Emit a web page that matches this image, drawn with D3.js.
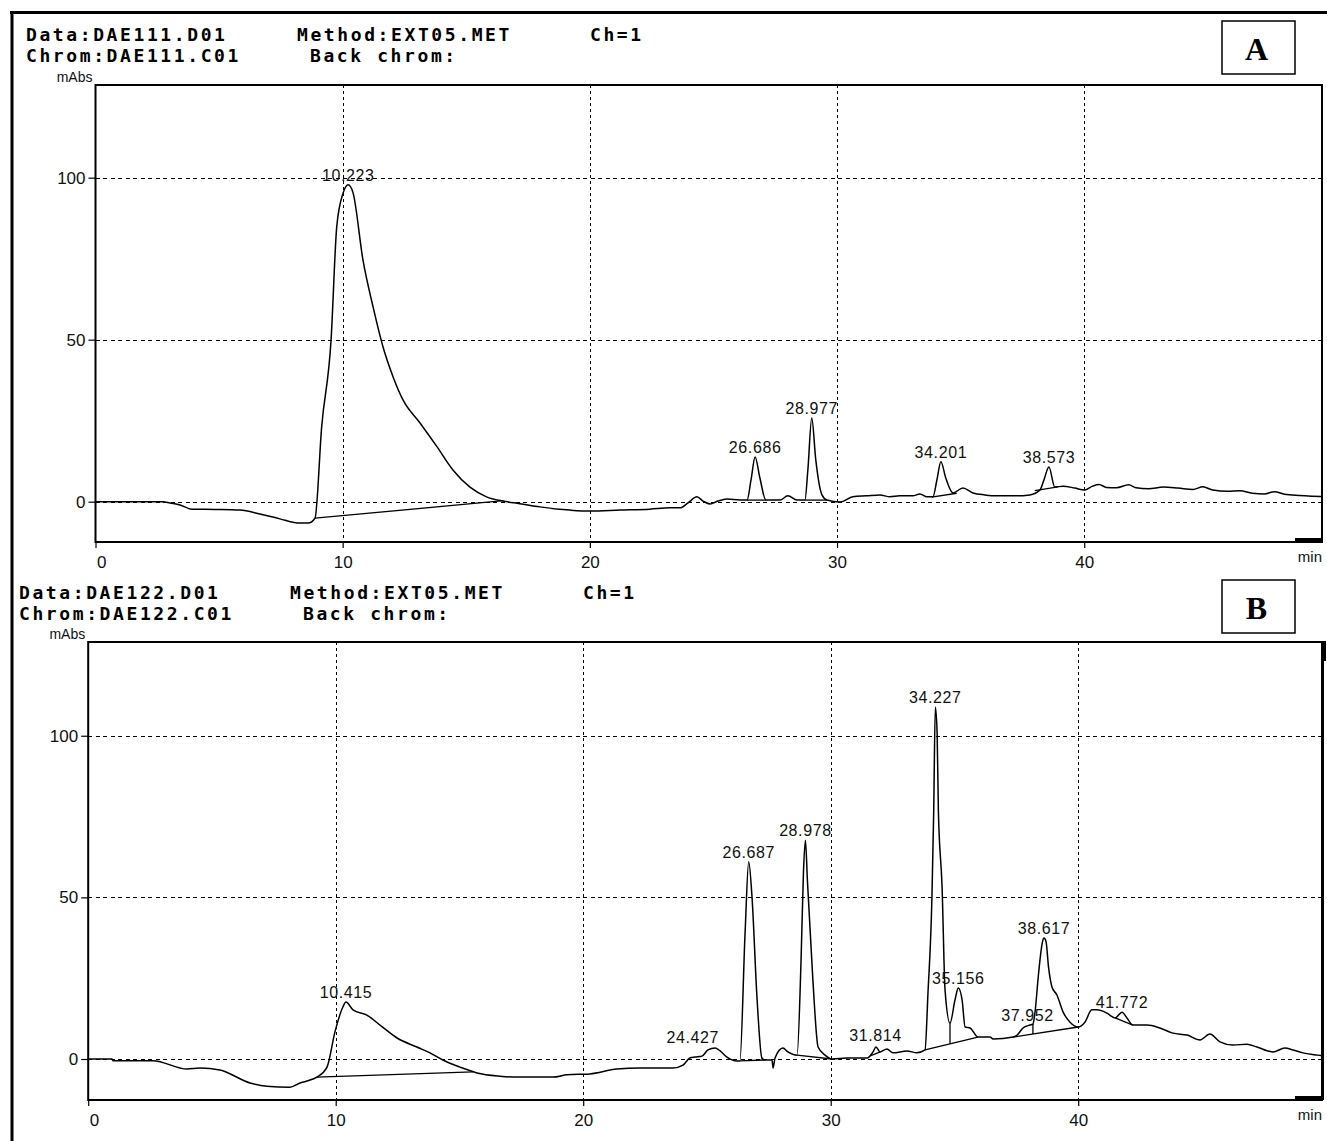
<!DOCTYPE html>
<html>
<head>
<meta charset="utf-8">
<script src="https://cdn.jsdelivr.net/npm/d3@7"></script>
<style>
  html, body { margin: 0; padding: 0; background: #fff; }
  svg { display: block; }
  .hdr { font-family: "DejaVu Sans Mono", "Liberation Mono", monospace; font-weight: bold; font-size: 18px; letter-spacing: 2.6px; fill: #000; }
  .tick { font-family: "Liberation Sans", Arial, sans-serif; font-size: 17px; fill: #111; }
  .unit { font-family: "Liberation Sans", Arial, sans-serif; font-size: 14px; fill: #111; }
  .peak { font-family: "Liberation Sans", Arial, sans-serif; font-size: 16px; letter-spacing: 0.6px; fill: #111; }
  .tag { font-family: "Liberation Serif", "Times New Roman", serif; font-weight: bold; font-size: 32px; fill: #000; }
</style>
</head>
<body>
<svg id="chart" width="1327" height="1141"></svg>
<script>
// ---- run A: DAE111 ----
const timeA = [0, 2.73, 3.01, 3.42, 3.90, 4.83, 5.84, 6.65, 7.46, 8.27, 8.60, 8.88, 9.15, 9.53, 9.76, 10.02,
  10.223, 10.42, 10.82, 11.23, 11.63, 12.04, 12.44, 13.13, 13.82, 14.46, 15.15, 15.82, 16.48, 17.17, 17.98,
  19.2, 20.0, 21.22, 22.43, 23.24, 23.64, 23.97, 24.33, 24.58, 24.86, 25.18, 25.54, 26.07, 26.36, 26.52,
  26.686, 26.88, 27.12, 27.69, 28.01, 28.38, 28.70, 28.82, 28.977, 29.14, 29.39, 29.59, 30.12, 30.64, 31.2,
  31.73, 32.14, 32.54, 33.07, 33.35, 33.64, 33.88, 34.04, 34.201, 34.40, 34.69, 35.09, 35.50, 35.98, 36.47,
  37.2, 37.8, 38.21, 38.37, 38.573, 38.81, 39.14, 39.62, 40.02, 40.34, 40.6, 40.9, 41.3, 41.8, 42.1, 42.6,
  43.2, 43.8, 44.4, 44.8, 45.2, 45.8, 46.3, 46.8, 47.3, 47.7, 48.1, 48.7, 49.2, 49.6];
const absA = [0, 0, -0.4, -1.0, -2.3, -2.4, -2.6, -3.8, -5.3, -6.6, -6.6, -5.1, 23.1, 49.9, 84.9, 95.3,
  97.8, 95.3, 74.6, 60.1, 47.8, 38.5, 31.4, 24.3, 16.9, 9.8, 4.5, 1.5, 0.2, -0.6, -1.6,
  -2.6, -2.9, -2.6, -2.3, -1.9, -1.9, -0.4, 1.5, 0.2, -0.7, 0.2, 0.8, 0.5, 0.5, 6.7,
  13.8, 7.3, 0.5, 0.5, 1.8, 0.5, 0.5, 9.8, 25.8, 12.9, 2.1, 0.5, -0.1, 1.5, 1.8,
  2.1, 1.5, 1.8, 1.8, 2.4, 1.5, 1.5, 6.7, 12.3, 7.3, 2.7, 4.2, 2.7, 2.1, 1.8,
  1.8, 2.1, 3.6, 6.7, 10.7, 4.5, 4.8, 4.2, 3.6, 4.8, 5.3, 4.4, 4.3, 5.2, 4.3, 4.0,
  4.5, 4.2, 3.8, 4.6, 3.6, 3.2, 3.4, 2.6, 2.4, 3.1, 2.3, 1.9, 1.7, 1.6];
const peakTimeA = [10.223, 26.686, 28.977, 34.201, 38.573];
const peakLevelA = [97.8, 13.8, 25.8, 12.3, 10.7];
// integration baselines: [t1, v1, t2, v2]
const baseA = [[8.88, -5.1, 16.50, 0.3], [26.36, 0.5, 27.12, 0.5], [28.70, 0.5, 29.59, 0.5],
  [33.83, 1.4, 34.84, 2.6], [38.0, 3.4, 38.94, 4.6]];

// ---- run B: DAE122 ----
const timeB = [0, 0.96, 1.0, 2.62, 3.99, 4.52, 5.32, 6.54, 7.22, 8.15, 8.56, 8.84, 9.24, 9.65, 9.97, 10.29,
  10.415, 10.70, 11.26, 11.79, 12.48, 13.28, 13.81, 14.33, 15.02, 15.71, 16.64, 17.32, 18.78, 19.35, 20.27,
  21.36, 22.30, 23.63, 24.03, 24.31, 24.52, 24.8, 25.04, 25.33, 25.53, 25.81, 26.21, 26.33, 26.54, 26.687,
  26.82, 27.02, 27.22, 27.34, 27.63, 27.67, 27.75, 28.07, 28.27, 28.64, 28.80, 28.90, 28.978, 29.06, 29.28,
  29.49, 29.77, 30.05, 30.66, 31.47, 31.71, 31.83, 31.99, 32.27, 32.52, 33.08, 33.48, 33.81, 33.93, 34.09,
  34.16, 34.227, 34.30, 34.35, 34.5, 34.62, 34.82, 35.02, 35.156, 35.31, 35.43, 35.63, 35.95, 36.44, 36.56,
  37.37, 37.53, 37.77, 38.05, 38.17, 38.25, 38.40, 38.55, 38.617, 38.70, 38.80, 38.94, 39.14, 39.39, 39.67,
  40.0, 40.27, 40.55, 40.76, 41.16, 41.49, 41.772, 41.97, 42.21, 42.78, 43.3, 43.83, 44.4, 44.92, 45.32,
  45.73, 46.25, 46.82, 47.22, 47.87, 48.35, 48.68, 49.08, 49.69, 49.85];
const absB = [0, 0, -0.5, -0.5, -3.1, -2.8, -3.4, -7.4, -8.4, -8.7, -7.4, -6.8, -5.6, -2.5, 8.4, 16.1,
  17.6, 15.2, 13.6, 10.5, 6.5, 3.7, 1.9, -0.3, -2.5, -4.3, -5.3, -5.6, -5.6, -4.9, -4.6,
  -3.1, -2.8, -2.8, -1.9, 0.3, 0.6, 0.9, 2.8, 3.4, 2.5, 0.6, -0.6, -0.6, 39, 61.0,
  50.1, 19.2, 0.3, -0.3, -0.3, -2.8, 0.3, 3.4, 2.2, 1.2, 30, 58, 67.7, 55, 24.4,
  3.7, 1.2, 0, 0.3, 0.3, 2.2, 3.7, 2.2, 3.1, 1.9, 2.5, 1.9, 2.8, 20.4, 50.1,
  76, 108.9, 100.8, 77, 53.2, 21.3, 11.1, 18.2, 22.0, 18.2, 9.9, 9.6, 6.8, 6.8, 6.2,
  6.8, 7.4, 9.6, 10.5, 10.8, 14.2, 26.6, 36.0, 37.4, 36.3, 28.5, 22.3, 19.8, 14.5, 11.4,
  9.9, 11.4, 15.2, 15.2, 14.2, 12.7, 14.5, 12.7, 10.5, 10.5, 9.6, 8.0, 7.4, 5.9, 7.7,
  5.3, 4.3, 4.6, 3.7, 2.2, 3.4, 2.8, 1.9, 1.2, 1.0];
const peakTimeB = [10.415, 24.427, 26.687, 28.978, 31.814, 34.227, 35.156, 37.952, 38.617, 41.772];
const peakLevelB = [17.6, 3.7, 61.0, 67.7, 4.2, 108.9, 22.0, 10.5, 37.4, 14.5];
const baseB = [[9.24, -5.6, 15.55, -4.0], [26.33, -0.6, 27.34, -0.3], [28.64, 1.2, 30.05, 0],
  [31.6, 1.0, 32.0, 2.2], [33.81, 2.8, 35.95, 6.8], [37.37, 6.8, 40.0, 9.9], [41.49, 12.7, 42.21, 10.5]];
// perpendicular drops between fused peaks: [t, curve value, baseline value]
const dropB = [[34.82, 11.1, 4.7], [38.17, 10.8, 7.74]];

// axes
const xTicks = [0, 10, 20, 30, 40];
const yTicks = [0, 50, 100];
const xUnit = "min";
const yUnit = "mAbs";

// file headers
const headerA = ["Data:DAE111.D01", "Method:EXT05.MET", "Ch=1", "Chrom:DAE111.C01", "Back chrom:"];
const headerB = ["Data:DAE122.D01", "Method:EXT05.MET", "Ch=1", "Chrom:DAE122.C01", "Back chrom:"];
const tagA = "A", tagB = "B";

const svg = d3.select("#chart");

// outer sheet border (top and left edges)
svg.append("line").attr("x1", 10).attr("x2", 1327).attr("y1", 12.5).attr("y2", 12.5)
  .attr("stroke", "#000").attr("stroke-width", 3);
svg.append("line").attr("x1", 12).attr("x2", 12).attr("y1", 11).attr("y2", 1141)
  .attr("stroke", "#000").attr("stroke-width", 3);

function drawPanel(p) {
  const g = svg.append("g");
  const x = d3.scaleLinear().domain(p.xDomain).range([p.left, p.right]);
  const y = d3.scaleLinear().domain(p.yDomain).range([p.bottom, p.top]);

  // header lines
  const h = p.header;
  const hx = [p.hx0, p.hx1, p.hx2, p.hx0, p.hx3];
  const hy = [p.hy0, p.hy0, p.hy0, p.hy1, p.hy1];
  h.forEach((s, i) => g.append("text").attr("class", "hdr").attr("x", hx[i]).attr("y", hy[i]).text(s));

  // tag box
  g.append("rect").attr("x", p.box[0]).attr("y", p.box[1]).attr("width", p.box[2]).attr("height", p.box[3])
    .attr("fill", "#fff").attr("stroke", "#000").attr("stroke-width", 1.5);
  g.append("text").attr("class", "tag").attr("text-anchor", "middle")
    .attr("x", p.box[0] + p.box[2] / 2 - 2).attr("y", p.box[1] + p.box[3] - 14).text(p.tag);

  // grid
  const grid = g.append("g").attr("stroke", "#000").attr("stroke-width", 1).attr("shape-rendering", "crispEdges");
  grid.selectAll(".hg").data(yTicks).join("line")
    .attr("x1", p.left).attr("x2", p.right)
    .attr("y1", d => Math.round(y(d)) + 0.5).attr("y2", d => Math.round(y(d)) + 0.5)
    .attr("stroke-dasharray", "4,3.5");
  grid.selectAll(".vg").data(xTicks.filter(d => d > 0)).join("line")
    .attr("x1", d => Math.round(x(d)) + 0.5).attr("x2", d => Math.round(x(d)) + 0.5)
    .attr("y1", p.top).attr("y2", p.bottom)
    .attr("stroke-dasharray", "3,3");

  // axes via d3 axis generators
  const yAxis = d3.axisLeft(y).tickValues(yTicks).tickSize(7).tickPadding(3);
  const ya = g.append("g").attr("transform", `translate(${p.left},0)`).call(yAxis);
  ya.select(".domain").remove();
  ya.selectAll("line").attr("stroke", "#000").attr("stroke-width", 1.2);
  ya.selectAll("text").attr("class", "tick").attr("font-size", null).attr("font-family", null);

  const xAxis = d3.axisBottom(x).tickValues(xTicks).tickSize(6).tickPadding(4);
  const xa = g.append("g").attr("transform", `translate(0,${p.bottom})`).call(xAxis);
  xa.select(".domain").remove();
  xa.selectAll("line").attr("stroke", "#000").attr("stroke-width", 1.2);
  xa.selectAll("text").attr("class", "tick").attr("font-size", null).attr("font-family", null)
    .attr("dy", "0.95em");
  xa.selectAll(".tick").filter(d => d === 0).select("text").attr("text-anchor", "start").attr("x", 1);

  // plot frame
  g.append("rect").attr("x", p.left).attr("y", p.top).attr("width", p.right - p.left)
    .attr("height", p.bottom - p.top).attr("fill", "none").attr("stroke", "#000").attr("stroke-width", 2);
  if (p.thickRight) {
    g.append("line").attr("x1", p.right + 0.5).attr("x2", p.right + 0.5).attr("y1", p.top).attr("y2", p.bottom)
      .attr("stroke", "#000").attr("stroke-width", 3);
    g.append("rect").attr("x", p.right - 1).attr("y", p.top - 1).attr("width", 5).attr("height", 20).attr("fill", "#000");
  }
  // scroll marker at lower right
  g.append("rect").attr("x", p.right - 27).attr("y", p.bottom - 4).attr("width", 28).attr("height", 5).attr("fill", "#000");

  // unit labels
  g.append("text").attr("class", "unit").attr("text-anchor", "end")
    .attr("x", p.left - 3).attr("y", p.top - 3).text(yUnit);
  g.append("text").attr("class", "unit").attr("text-anchor", "end")
    .attr("x", p.right).attr("y", p.bottom + 20).style("font-size", "15px").text(xUnit);

  // integration baselines
  const segGen = d3.line().x(d => x(d[0])).y(d => y(d[1]));
  g.append("g").selectAll("path").data(p.base).join("path")
    .attr("d", d => segGen([[d[0], d[1]], [d[2], d[3]]]))
    .attr("fill", "none").attr("stroke", "#000").attr("stroke-width", 1.3);
  g.append("g").selectAll("path").data(p.drop || []).join("path")
    .attr("d", d => segGen([[d[0], d[1]], [d[0], d[2]]]))
    .attr("fill", "none").attr("stroke", "#000").attr("stroke-width", 1.3);

  // chromatogram trace
  const traceGen = d3.line().x(d => x(d[0])).y(d => y(d[1])).curve(d3.curveMonotoneX);
  const pts = p.time.map((t, i) => [t, p.abs[i]]);
  g.append("path").datum(pts).attr("d", traceGen)
    .attr("fill", "none").attr("stroke", "#000").attr("stroke-width", 1.5).attr("stroke-linejoin", "round");

  // retention time labels
  g.append("g").selectAll("text").data(p.peakTime).join("text")
    .attr("class", "peak").attr("text-anchor", "middle")
    .attr("x", d => x(d)).attr("y", (d, i) => y(p.peakLevel[i]) - 4)
    .text(d => d.toFixed(3));
}

drawPanel({
  time: timeA, abs: absA, peakTime: peakTimeA, peakLevel: peakLevelA, base: baseA,
  header: headerA, tag: tagA,
  left: 95.5, right: 1322, top: 85, bottom: 542,
  xDomain: [0, 49.62], yDomain: [-12.44, 128.6],
  hx0: 26, hx1: 297, hx2: 590, hx3: 310, hy0: 41, hy1: 62,
  box: [1222, 21, 73, 53]
});

drawPanel({
  time: timeB, abs: absB, peakTime: peakTimeB, peakLevel: peakLevelB, base: baseB, drop: dropB,
  header: headerB, tag: tagB,
  left: 88.2, right: 1322, top: 642, bottom: 1100,
  xDomain: [0, 49.85], yDomain: [-12.68, 129.0],
  hx0: 19, hx1: 290, hx2: 583, hx3: 303, hy0: 599, hy1: 620,
  box: [1222, 580, 73, 53], thickRight: true
});
</script>
</body>
</html>
